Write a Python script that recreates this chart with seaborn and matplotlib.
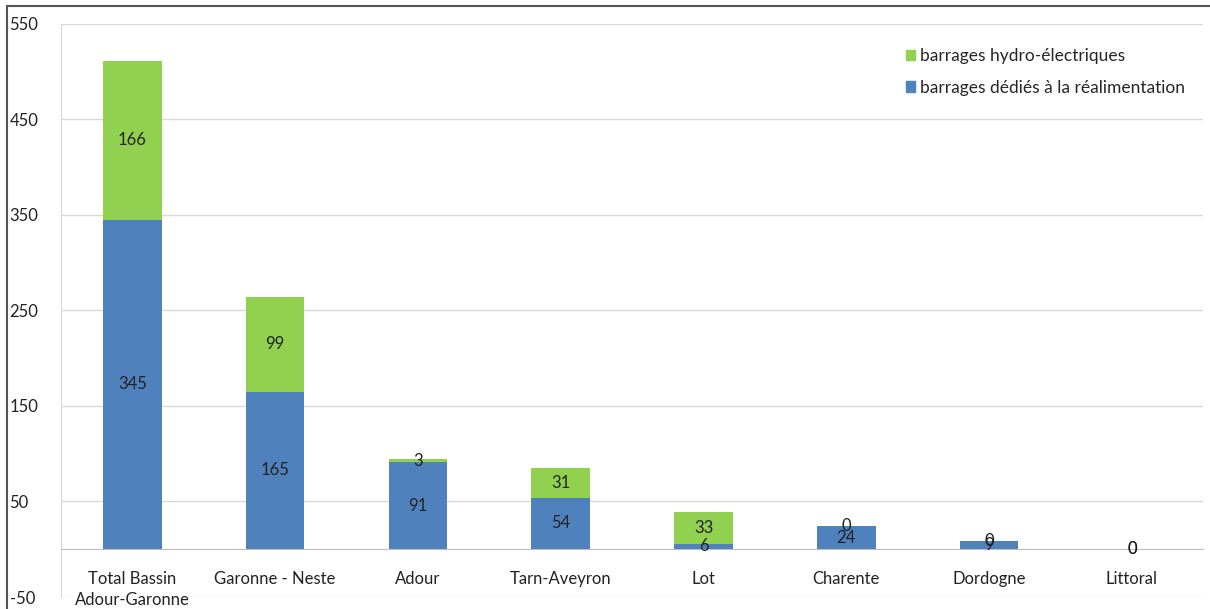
import pandas as pd
import matplotlib.pyplot as plt
import seaborn as sns
from matplotlib.patches import Patch
from matplotlib.lines import Line2D

# --- Data ---
categories = ['Total Bassin\nAdour-Garonne', 'Garonne - Neste', 'Adour', 'Tarn-Aveyron',
              'Lot', 'Charente', 'Dordogne', 'Littoral']
realimentation = [345, 165, 91, 54, 6, 24, 9, 0]
hydro = [166, 99, 3, 31, 33, 0, 0, 0]
yticks = [-50, 50, 150, 250, 350, 450, 550]

BLUE = '#4f81bd'
GREEN = '#92d050'

df = pd.DataFrame({'cat': categories, 'real': realimentation, 'hydro': hydro})
df['total'] = df['real'] + df['hydro']

sns.set_style('white')
plt.rcParams['font.family'] = ['Lato', 'DejaVu Sans']
plt.rcParams['axes.unicode_minus'] = False

fig = plt.figure(figsize=(12.1, 6.09), dpi=100)
ax = fig.add_axes([0.0504, 0.0197, 0.944, 0.941])

sns.barplot(data=df, x='cat', y='total', color=GREEN, width=0.41, saturation=1,
            linewidth=0, ax=ax, zorder=3)
sns.barplot(data=df, x='cat', y='real', color=BLUE, width=0.41, saturation=1,
            linewidth=0, ax=ax, zorder=4)

# segment labels
for i, row in df.iterrows():
    ax.text(i, row['real'] / 2, str(row['real']), ha='center', va='center',
            fontsize=12, color='#222222', zorder=6)
    ax.text(i, row['real'] + row['hydro'] / 2, str(row['hydro']), ha='center', va='center',
            fontsize=12, color='#222222', zorder=6)

ax.set_xlim(-0.5, len(categories) - 0.5)
ax.set_ylim(-50, 550)
ax.set_yticks(yticks)
ax.tick_params(axis='y', length=0, labelsize=12, pad=37, colors='#222222')
for lab in ax.get_yticklabels():
    lab.set_horizontalalignment('left')
for y in yticks:
    ax.axhline(y, color='#d9d9d9', lw=1, zorder=0)

# x axis sits at zero, labels below it
for s in ['top', 'right']:
    ax.spines[s].set_visible(False)
ax.spines['bottom'].set_position(('data', 0))
ax.spines['bottom'].set_color('#bfbfbf')
ax.spines['left'].set_color('#d9d9d9')
ax.set_xticks([i + 0.5 for i in range(len(categories))], minor=True)
ax.tick_params(axis='x', which='minor', length=6, color='#bfbfbf', direction='out')
ax.tick_params(axis='x', which='major', length=0, labelsize=12, pad=16, colors='#222222')
for lab in ax.get_xticklabels():
    lab.set_linespacing(1.35)
ax.set_xlabel('')
ax.set_ylabel('')

handles = [Patch(color=GREEN, label='barrages hydro-électriques'),
           Patch(color=BLUE, label='barrages dédiés à la réalimentation')]
ax.legend(handles=handles, loc='upper right', bbox_to_anchor=(0.998, 0.985), frameon=False,
          fontsize=12.5, handlelength=0.55, handleheight=0.55, handletextpad=0.3, labelspacing=0.9)

# screenshot frame
fig.add_artist(Line2D([0.006, 1.0], [0.99, 0.99], color='#555555', lw=1.5))
fig.add_artist(Line2D([0.006, 0.006], [0.0, 0.99], color='#555555', lw=1.5))

fig.savefig('out.png', dpi=100)
